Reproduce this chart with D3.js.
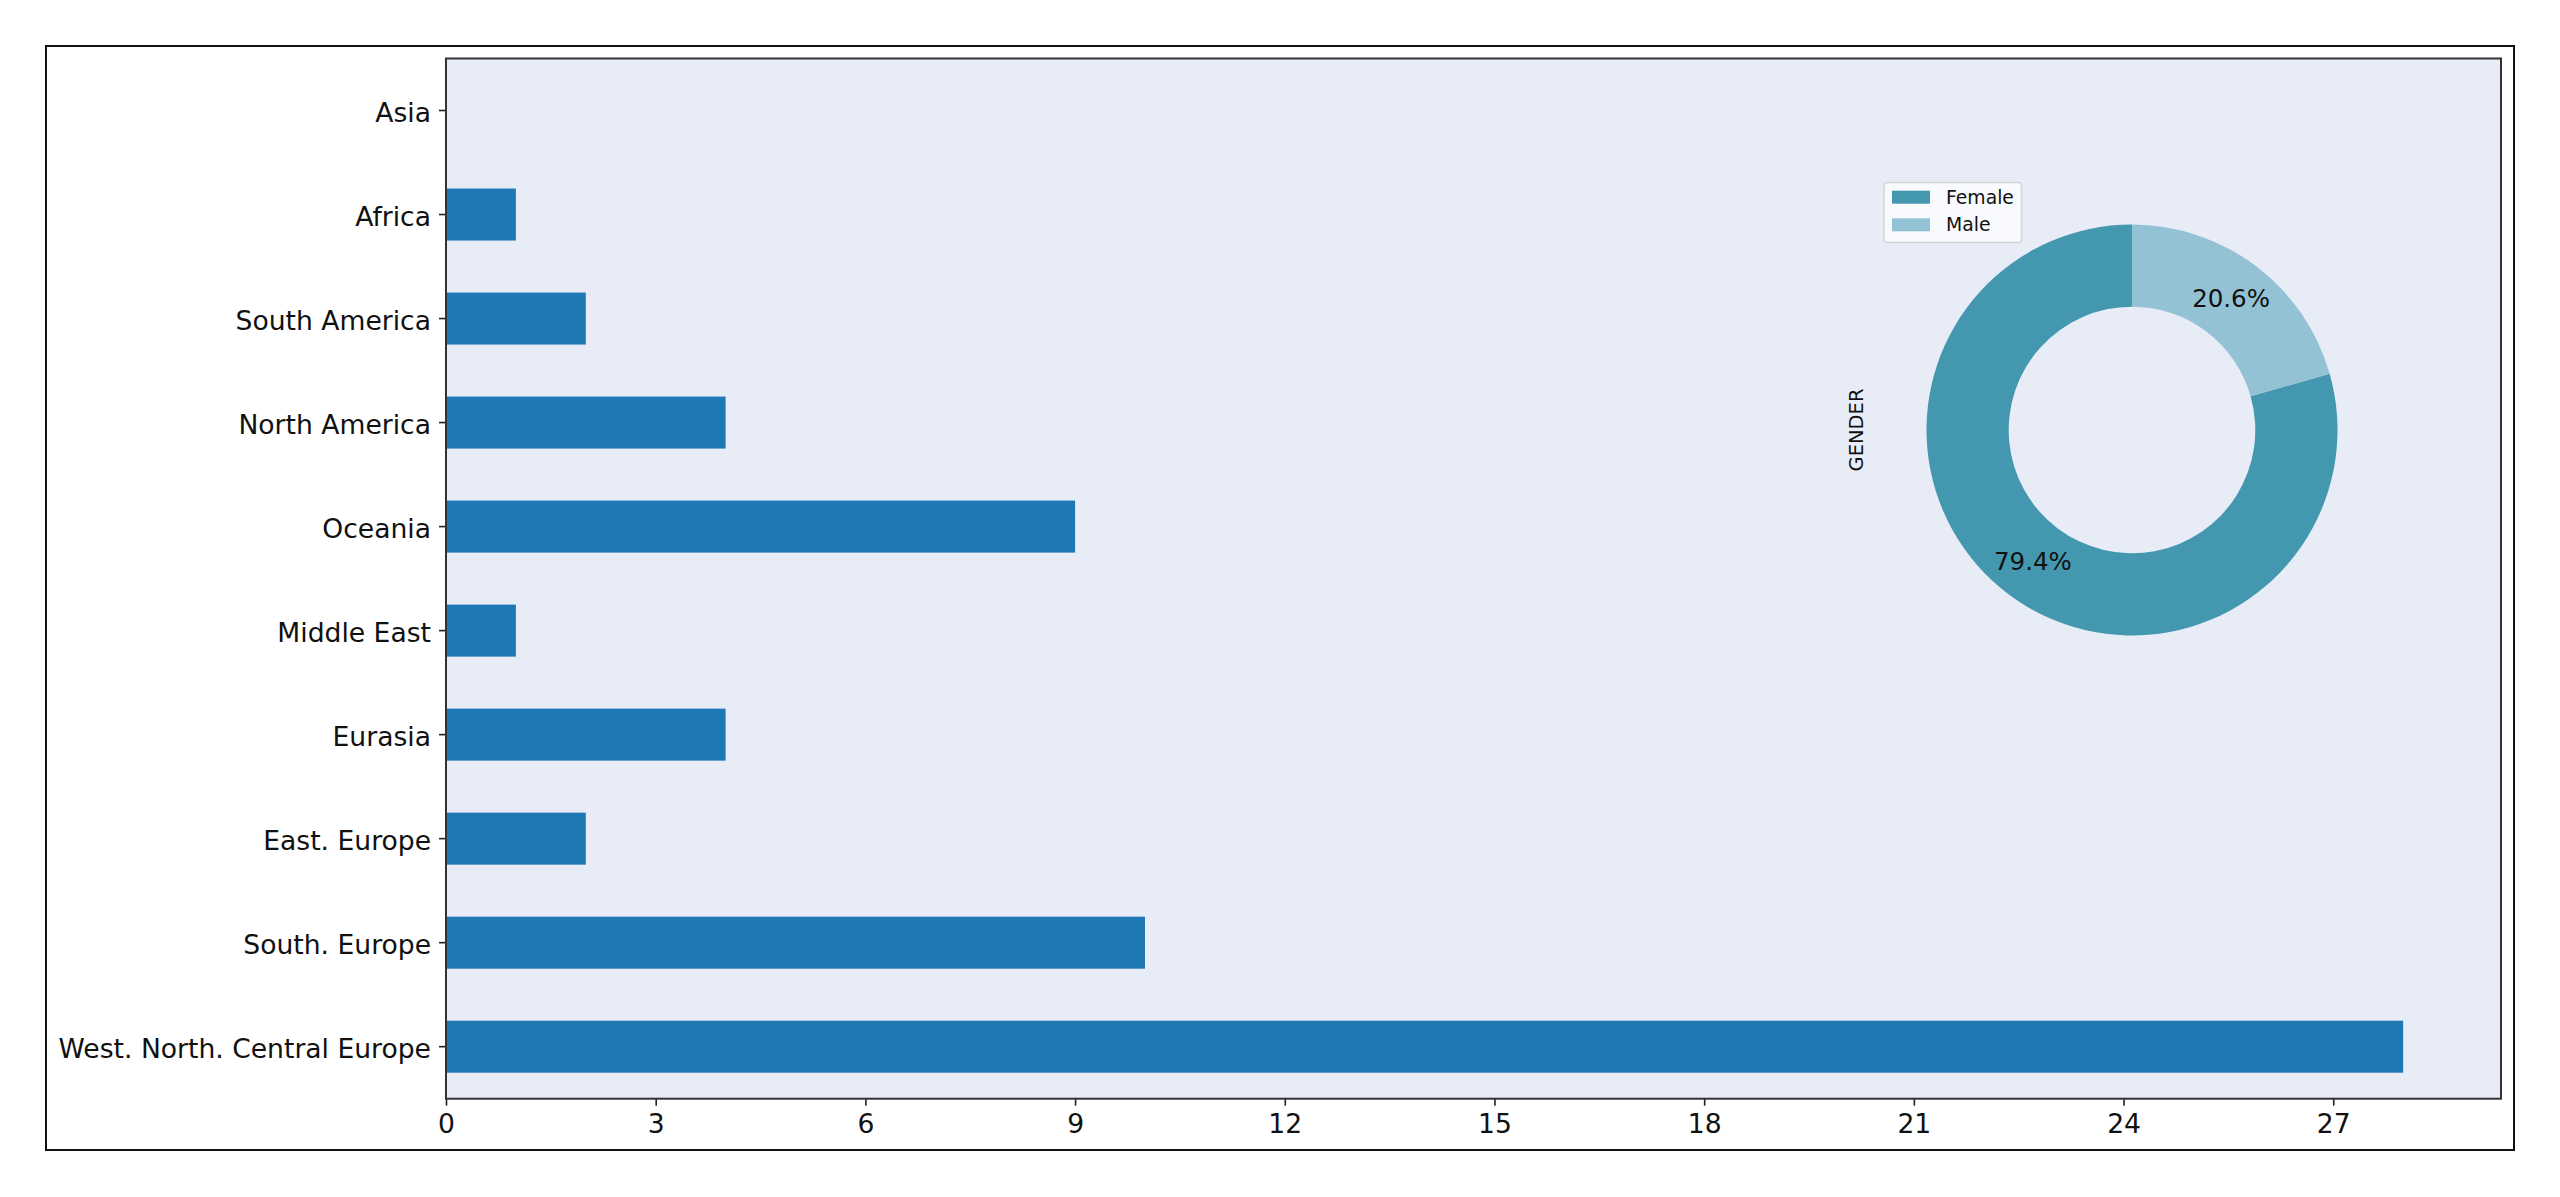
<!DOCTYPE html>
<html>
<head>
<meta charset="utf-8">
<script src="https://cdn.jsdelivr.net/npm/d3@7"></script>
<style>
  html, body { margin: 0; padding: 0; background: #ffffff; }
  svg { display: block; }
  text { font-family: "DejaVu Sans", sans-serif; }
</style>
</head>
<body>
<svg id="chart" width="2560" height="1197"></svg>
<script>
// ---- data ----
const regions = ["Asia", "Africa", "South America", "North America", "Oceania",
                 "Middle East", "Eurasia", "East. Europe", "South. Europe",
                 "West. North. Central Europe"];
const regionCounts = [0, 1, 2, 4, 9, 1, 4, 2, 10, 28];
const xTicks = [0, 3, 6, 9, 12, 15, 18, 21, 24, 27];
const genders = ["Female", "Male"];
const genderCounts = [27, 7];
const genderColors = ["#4398b0", "#93c2d4"];
const pieTitle = "GENDER";

// ---- layout ----
const svg = d3.select("#chart");
const W = 2560, H = 1197;
const frame = {x0: 46, y0: 46, x1: 2514, y1: 1150};
const plot = {x0: 446, y0: 58.5, x1: 2501, y1: 1098.7};
const tickFont = 26.6;

svg.append("rect").attr("width", W).attr("height", H).attr("fill", "#ffffff");
svg.append("rect")
  .attr("x", frame.x0).attr("y", frame.y0)
  .attr("width", frame.x1 - frame.x0).attr("height", frame.y1 - frame.y0)
  .attr("fill", "none").attr("stroke", "#111").attr("stroke-width", 2);

// plot background
svg.append("rect")
  .attr("x", plot.x0).attr("y", plot.y0)
  .attr("width", plot.x1 - plot.x0).attr("height", plot.y1 - plot.y0)
  .attr("fill", "#e8ecf7");

const x = d3.scaleLinear().domain([0, 29.4]).range([plot.x0, plot.x1]);
const y = d3.scaleBand().domain(regions).range([plot.y0, plot.y1])
  .paddingInner(0.5).paddingOuter(0.25);

// bars
svg.append("g").selectAll("rect")
  .data(regions.map((r, i) => ({r, v: regionCounts[i]})))
  .join("rect")
  .attr("x", x(0))
  .attr("y", d => y(d.r))
  .attr("width", d => x(d.v) - x(0))
  .attr("height", y.bandwidth())
  .attr("fill", "#1f77b4");

// axes
const xAxis = svg.append("g")
  .attr("transform", `translate(0,${plot.y1})`)
  .call(d3.axisBottom(x).tickValues(xTicks).tickSize(7).tickPadding(8).tickFormat(d3.format("d")));
xAxis.select(".domain").remove();
xAxis.selectAll("line").attr("stroke", "#222").attr("stroke-width", 1.6);
xAxis.selectAll("text").attr("font-size", tickFont).attr("fill", "#111")
  .attr("font-family", "DejaVu Sans");

const yAxis = svg.append("g")
  .attr("transform", `translate(${plot.x0},0)`)
  .call(d3.axisLeft(y).tickSize(7).tickPadding(8));
yAxis.select(".domain").remove();
yAxis.selectAll("line").attr("stroke", "#222").attr("stroke-width", 1.6);
yAxis.selectAll("text").attr("font-size", tickFont).attr("fill", "#111")
  .attr("dy", "0.43em")
  .attr("font-family", "DejaVu Sans");

// plot border
svg.append("rect")
  .attr("x", plot.x0).attr("y", plot.y0)
  .attr("width", plot.x1 - plot.x0).attr("height", plot.y1 - plot.y0)
  .attr("fill", "none").attr("stroke", "#333").attr("stroke-width", 2);

// ---- donut ----
const cx = 2132, cy = 430, R = 205.5;
const pie = d3.pie().sort(null).startAngle(0).endAngle(-2 * Math.PI);
const arcs = pie(genderCounts);
const arc = d3.arc().innerRadius(R * 0.6).outerRadius(R);
const pieG = svg.append("g").attr("transform", `translate(${cx},${cy})`);
pieG.selectAll("path").data(arcs).join("path")
  .attr("d", arc)
  .attr("fill", (d, i) => genderColors[i]);

const total = d3.sum(genderCounts);
const labelArc = d3.arc().innerRadius(R * 0.8).outerRadius(R * 0.8);
pieG.selectAll("text.pct").data(arcs).join("text")
  .attr("class", "pct")
  .attr("transform", d => `translate(${labelArc.centroid(d)})`)
  .attr("text-anchor", "middle")
  .attr("dominant-baseline", "central")
  .attr("font-size", 24.5)
  .attr("fill", "#111")
  .text(d => (d.data / total * 100).toFixed(1) + "%");

// pie title (ylabel)
svg.append("text")
  .attr("transform", `translate(1856,${cy}) rotate(-90)`)
  .attr("text-anchor", "middle")
  .attr("dominant-baseline", "central")
  .attr("font-size", 19.5)
  .attr("fill", "#111")
  .text(pieTitle);

// legend
const lg = svg.append("g");
lg.append("rect")
  .attr("x", 1884).attr("y", 182.5).attr("width", 137.5).attr("height", 60)
  .attr("rx", 3).attr("fill", "#f9fafd").attr("stroke", "#d4d4d4").attr("stroke-width", 1.5);
genders.forEach((g, i) => {
  const yy = 190.7 + i * 27.6;
  lg.append("rect").attr("x", 1892).attr("y", yy).attr("width", 38).attr("height", 13)
    .attr("fill", genderColors[i]);
  lg.append("text").attr("x", 1946).attr("y", yy + 6.5)
    .attr("dominant-baseline", "central")
    .attr("font-size", 18.8).attr("fill", "#111").text(g);
});
</script>
</body>
</html>
